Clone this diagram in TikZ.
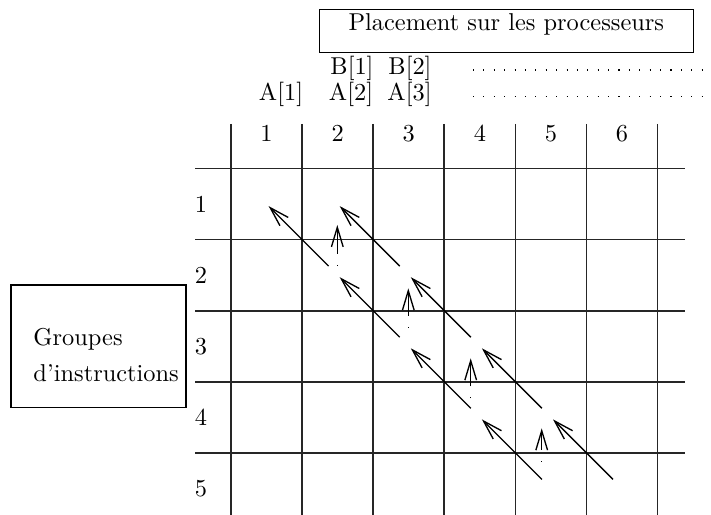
\documentclass[tikz,border=0pt]{standalone}
\usetikzlibrary{arrows.meta,calc}

\begin{document}
\begin{tikzpicture}[
        x=.41pt,y=-.41pt,>={Straight Barb[length=8pt,width=4.8pt]},
        gridline/.style={line width=.7pt,draw=black!85},
        framebox/.style={draw,line width=.45pt,inner sep=0pt},
        txt/.style={inner sep=0pt,font=\fontsize{10}{15}\selectfont},
        depflow/.style={->,line width=.55pt},
        syncflow/.style={->,line width=.55pt,dash pattern=on .45pt off 4.4pt on 40pt},
        dotrow/.style={line width=.45pt,dash pattern=on .45pt off 3.81pt}
      ]
        \useasboundingbox (0,0) rectangle (711,515);

        \node[framebox,minimum width=153.3pt,minimum height=17.9pt]
          (placement) at (506.3,30.9) {};
        \node[txt] (placementtxt) at (506.3,24) {Placement sur les processeurs};

        \node[framebox,minimum width=71.75pt,minimum height=50.3pt]
          (groupes) at (98.5,346.3) {};
        \node[txt,align=left,anchor=west] (groupestxt) at (33,355)
          {Groupes\\d'instructions};

        \node[txt] (b1) at (352,68.3) {B[1]};
        \node[txt] (b2) at (410,68.3) {B[2]};
        \node[txt] (a1) at (281,94) {A[1]};
        \node[txt] (a2) at (351,94) {A[2]};
        \node[txt] (a3) at (409.5,94) {A[3]};

        \coordinate (dotsb-w) at (473,70);
        \coordinate (dotsb-e) at (711,70);
        \coordinate (dotsa-w) at (473,96.7);
        \coordinate (dotsa-e) at (711,96.7);
        \draw[dotrow] (dotsb-w) -- (dotsb-e);
        \draw[dotrow] (dotsa-w) -- (dotsa-e);

        \foreach \i in {0,...,6}
          \draw[gridline] ({231+71.1*\i},124) -- ({231+71.1*\i},515);
        \foreach \j in {0,...,4}
          \draw[gridline] (195,{168.5+71.1*\j}) -- (685,{168.5+71.1*\j});

        \foreach \i in {1,...,6}
          \node[txt] (col\i) at ({231+71.1*(\i-.5)},133.3) {\i};
        \foreach \j in {1,...,5}
          \node[txt] (row\j) at (201,{168.5+71.1*(\j-.5)}) {\j};

        \foreach \i in {0,...,6}
          \foreach \j in {0,...,4}
            \coordinate (p\i-\j) at ({231+71.1*\i},{168.5+71.1*\j});

        \foreach \i/\j in {1/1,2/1,2/2,3/2,3/3,4/3,4/4,5/4}
          \draw[depflow] ($(p\i-\j)+(26.5,26.5)$) -- ($(p\i-\j)+(-33.5,-33.5)$);

        \foreach \n/\x/\ya/\yb in {1/337.3/265.7/225,2/408.3/327.7/288.3,
            3/470.7/398.3/358.3,4/541.7/461.7/428.3}{
          \coordinate (sync\n-s) at (\x,\ya);
          \coordinate (sync\n-t) at (\x,\yb);
          \draw[syncflow] (sync\n-s) -- (sync\n-t);
        }
      \end{tikzpicture}
\end{document}
